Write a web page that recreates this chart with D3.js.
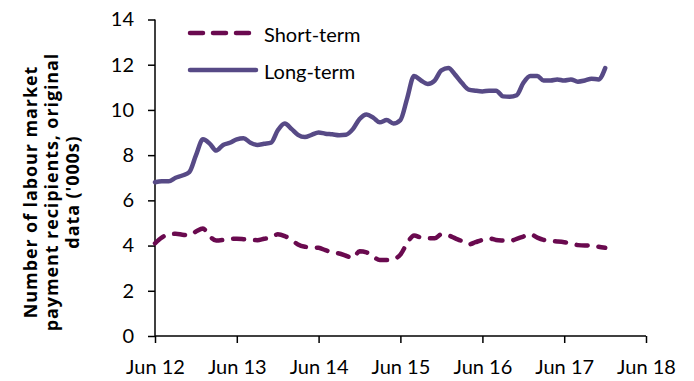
<!DOCTYPE html>
<html>
<head>
<meta charset="utf-8">
<script src="https://cdn.jsdelivr.net/npm/d3@7"></script>
<style>
  html, body { margin: 0; padding: 0; background: #fff; }
  svg { display: block; font-family: Lato, "Open Sans", sans-serif; }
</style>
</head>
<body>
<svg id="chart" width="694" height="381"></svg>
<script>
// Monthly series, Jun 2012 – Dec 2017 (thousands of recipients)
const startMonth = "2012-06";
const shortTerm = [
  4.10, 4.35, 4.50, 4.52, 4.48, 4.45, 4.62, 4.75, 4.40, 4.22, 4.25, 4.30,
  4.30, 4.28, 4.25, 4.24, 4.30, 4.35, 4.50, 4.42, 4.25, 4.05, 3.95, 3.92,
  3.90, 3.80, 3.70, 3.65, 3.55, 3.45, 3.75, 3.70, 3.50, 3.36, 3.36, 3.40,
  3.60, 4.10, 4.45, 4.35, 4.32, 4.32, 4.50, 4.45, 4.32, 4.20, 4.05, 4.15,
  4.25, 4.32, 4.25, 4.22, 4.20, 4.30, 4.40, 4.50, 4.35, 4.25, 4.20, 4.18,
  4.15, 4.10, 4.02, 4.00, 4.02, 3.95, 3.90
];
const longTerm = [
  6.80, 6.85, 6.85, 7.00, 7.10, 7.25, 8.00, 8.70, 8.50, 8.20, 8.45, 8.55,
  8.70, 8.75, 8.55, 8.45, 8.50, 8.55, 9.10, 9.40, 9.15, 8.90, 8.80, 8.90,
  9.00, 8.95, 8.92, 8.88, 8.90, 9.15, 9.60, 9.80, 9.65, 9.45, 9.55, 9.40,
  9.55, 10.50, 11.50, 11.30, 11.15, 11.30, 11.75, 11.85, 11.55, 11.20, 10.90, 10.85,
  10.82, 10.85, 10.85, 10.60, 10.58, 10.65, 11.20, 11.50, 11.50, 11.30, 11.30, 11.35,
  11.30, 11.35, 11.25, 11.30, 11.38, 11.35, 11.85
];
const seriesNames = ["Short-term", "Long-term"];
const yTicks = [0, 2, 4, 6, 8, 10, 12, 14];
const xTickLabels = ["Jun 12", "Jun 13", "Jun 14", "Jun 15", "Jun 16", "Jun 17", "Jun 18"];
const yTitle = ["Number of labour market", "payment recipients, original", "data ('000s)"];

const parseMonth = d3.utcParse("%Y-%m");
const start = parseMonth(startMonth);
const dates = shortTerm.map((_, i) => d3.utcMonth.offset(start, i));
const xTickDates = xTickLabels.map((_, i) => d3.utcYear.offset(start, i));

const svg = d3.select("#chart");
const x = d3.scaleUtc()
  .domain([xTickDates[0], xTickDates[xTickDates.length - 1]])
  .range([155, 646]);
const y = d3.scaleLinear().domain([0, 14]).range([336, 19.5]);

const fontSize = 20;

// Axes
const yAxis = svg.append("g")
  .attr("transform", `translate(${x.range()[0]},0)`)
  .call(d3.axisLeft(y).tickValues(yTicks).tickSize(7).tickPadding(14).tickFormat(d3.format("d")));
const xAxis = svg.append("g")
  .attr("transform", `translate(0,${y(0)})`)
  .call(d3.axisBottom(x).tickValues(xTickDates).tickSize(7).tickPadding(17)
    .tickFormat((d, i) => xTickLabels[i]));

[yAxis, xAxis].forEach(g => {
  g.select(".domain").attr("stroke", "#000").attr("stroke-width", 1.5);
  g.selectAll(".tick line").attr("stroke", "#000").attr("stroke-width", 1.5);
  g.selectAll(".tick text")
    .attr("fill", "#000")
    .style("font-family", "Lato, 'Open Sans', sans-serif")
    .style("font-size", fontSize + "px");
});
xAxis.select(".domain").attr("d", `M${x.range()[0]},0H${x.range()[1]}`);
yAxis.select(".domain").attr("d", `M0,${y(0)}V${y(14)}`);

// Y-axis title
const title = svg.append("text")
  .attr("transform", `translate(52,192) rotate(-90)`)
  .attr("text-anchor", "middle")
  .style("font-family", "'Open Sans', Lato, sans-serif")
  .style("font-weight", "bold")
  .style("font-size", "18px")
  .style("letter-spacing", "0.9px")
  .attr("fill", "#000");
title.selectAll("tspan").data(yTitle).join("tspan")
  .attr("x", 0)
  .attr("y", (d, i) => (i - 1) * 21 + 6)
  .text(d => d);

// Series lines
const colors = { "Short-term": "#6a0a4f", "Long-term": "#574a86" };
const dashes = { "Short-term": "11,11", "Long-term": null };
const line = d3.line().x((d, i) => x(dates[i])).y(d => y(d)).curve(d3.curveMonotoneX);

const seriesData = [shortTerm, longTerm];
seriesNames.forEach((name, k) => {
  svg.append("path")
    .datum(seriesData[k])
    .attr("d", line)
    .attr("fill", "none")
    .attr("stroke", colors[name])
    .attr("stroke-width", 4.5)
    .attr("stroke-linecap", "round")
    .attr("stroke-linejoin", "round")
    .attr("stroke-dasharray", dashes[name]);
});

// Legend
const legend = svg.append("g");
const legendY = [33, 70];
seriesNames.forEach((name, k) => {
  legend.append("line")
    .attr("x1", 190).attr("x2", 256)
    .attr("y1", legendY[k]).attr("y2", legendY[k])
    .attr("stroke", colors[name])
    .attr("stroke-width", 4.5)
    .attr("stroke-linecap", "round")
    .attr("stroke-dasharray", dashes[name] ? "13,10" : null);
  legend.append("text")
    .attr("x", 264).attr("y", legendY[k] + 8.5)
    .style("font-size", fontSize + "px")
    .attr("fill", "#000")
    .text(name);
});
</script>
</body>
</html>
